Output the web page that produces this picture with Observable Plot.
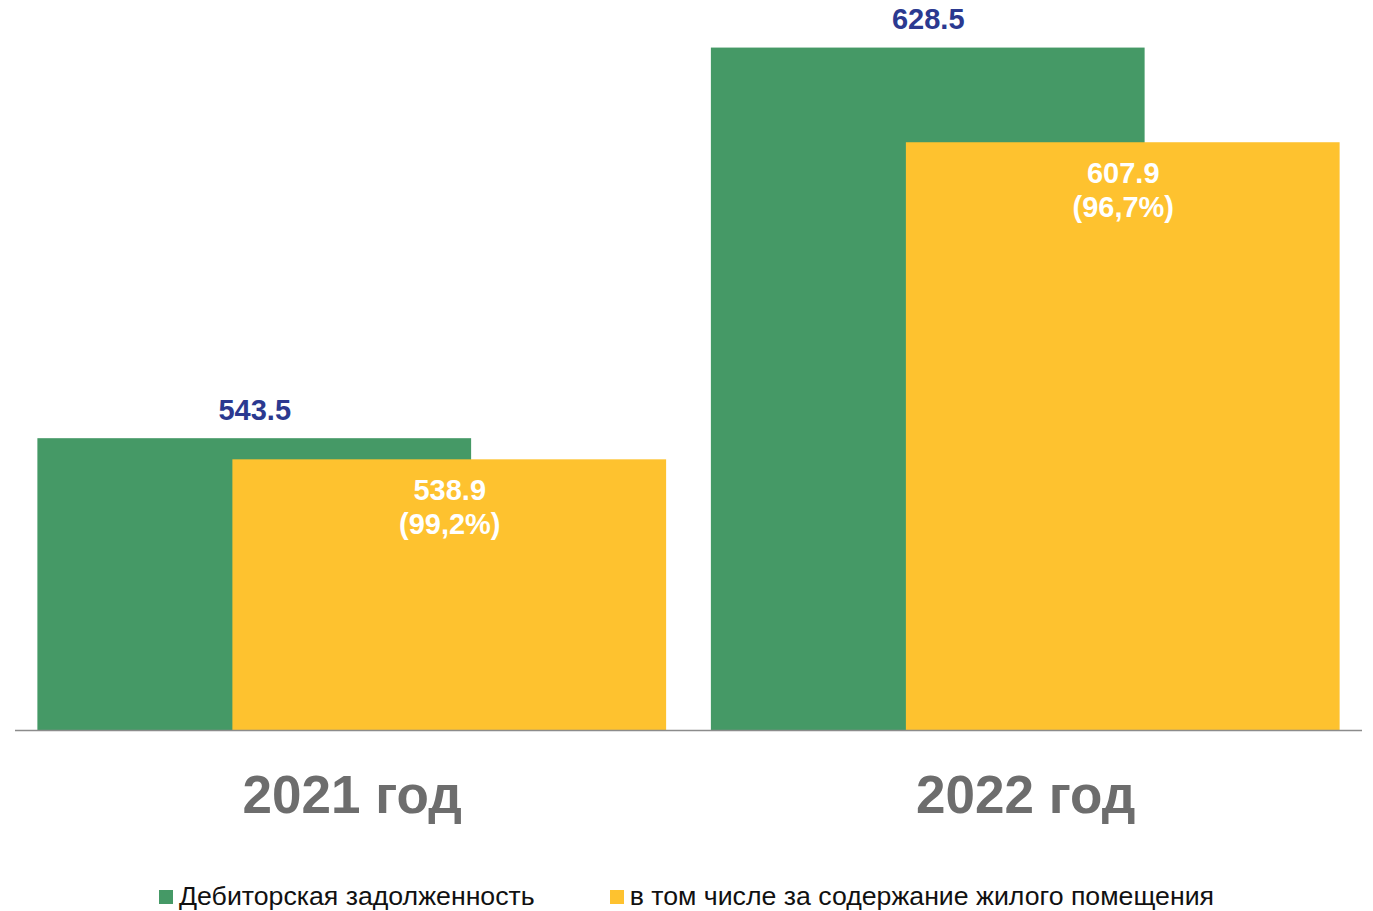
<!DOCTYPE html>
<html>
<head>
<meta charset="utf-8">
<script src="https://cdn.jsdelivr.net/npm/d3@7"></script>
<script src="https://cdn.jsdelivr.net/npm/@observablehq/plot@0.6"></script>
<style>
  html, body { margin: 0; padding: 0; background: #fff; }
  #wrap { position: relative; width: 1373px; height: 911px; font-family: Arial, "Liberation Sans", sans-serif; }
  #legend { position: absolute; left: 0; width: 1373px; top: 881px; display: flex; justify-content: center; gap: 75px; font-size: 26.7px; color: #111; }
  .item { display: flex; align-items: center; white-space: nowrap; }
  .sw { width: 14px; height: 14px; margin-right: 6px; display: inline-block; }
</style>
</head>
<body>
<div id="wrap"></div>
<script>
const years = ["2021 год", "2022 год"];
const totalDebt = [543.5, 628.5];
const housingDebt = [538.9, 607.9];
const housingShare = ["99,2%", "96,7%"];
const seriesNames = ["Дебиторская задолженность", "в том числе за содержание жилого помещения"];
const seriesColors = ["#459966", "#fec22f"];
const yDomain = [480, 634.5];

const totalRows = years.map((year, i) => ({year, value: totalDebt[i], series: seriesNames[0]}));
const housingRows = years.map((year, i) => ({year, value: housingDebt[i], share: housingShare[i], series: seriesNames[1]}));

const chart = Plot.plot({
  width: 1373,
  height: 860,
  marginLeft: 15,
  marginRight: 11,
  marginTop: 20,
  marginBottom: 130,
  style: {fontFamily: 'Arial, "Liberation Sans", sans-serif', background: "#fff"},
  x: {domain: years, paddingInner: 0.356, paddingOuter: 0.178, round: false, label: null},
  y: {domain: yDomain, axis: null},
  color: {domain: seriesNames, range: seriesColors},
  marks: [
    Plot.rectY(totalRows, {x: "year", y1: yDomain[0], y2: "value", fill: "series", dx: -97.5}),
    Plot.rectY(housingRows, {x: "year", y1: yDomain[0], y2: "value", fill: "series", dx: 97.5}),
    Plot.text(totalRows, {x: "year", y: "value", text: d => d.value.toFixed(1), dx: -97.5, dy: -28, fill: "#2b3990", fontSize: 29, fontWeight: "bold"}),
    Plot.text(housingRows, {x: "year", y: "value", text: d => `${d.value.toFixed(1)}\n(${d.share})`, dx: 97.5, dy: 46, lineAnchor: "middle", lineHeight: 1.18, fill: "#fff", fontSize: 29, fontWeight: "bold"}),
    Plot.ruleY([yDomain[0]], {stroke: "#8c8c8c", strokeWidth: 1.5}),
    Plot.axisX({tickSize: 0, tickPadding: 45, fontSize: 53, fontWeight: "bold", fill: "#6d6d6d", label: null})
  ]
});
document.getElementById("wrap").appendChild(chart);

const legend = document.createElement("div");
legend.id = "legend";
seriesNames.forEach((name, i) => {
  const item = document.createElement("div");
  item.className = "item";
  const sw = document.createElement("span");
  sw.className = "sw";
  sw.style.background = seriesColors[i];
  const label = document.createElement("span");
  label.textContent = name;
  item.appendChild(sw);
  item.appendChild(label);
  legend.appendChild(item);
});
document.getElementById("wrap").appendChild(legend);
</script>
</body>
</html>
